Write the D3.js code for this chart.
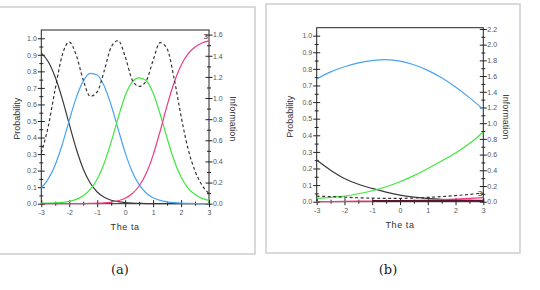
<!DOCTYPE html>
<html><head><meta charset="utf-8">
<script src="https://cdn.jsdelivr.net/npm/d3@7"></script>
<style>body{margin:0;background:#fff;}svg{display:block;}</style>
</head><body>
<svg id="c" width="540" height="290"></svg>
<script>
// ---------- data ----------
const theta = [-3,-2.75,-2.5,-2.25,-2,-1.75,-1.5,-1.25,-1,-0.75,-0.5,-0.25,0,0.25,0.5,0.75,1,1.25,1.5,1.75,2,2.25,2.5,2.75,3];
// panel (a)
const aCat0 = [0.912,0.858,0.764,0.634,0.481,0.332,0.210,0.125,0.071,0.039,0.021,0.012,0.006,0.003,0.002,0.001,0.001,0,0,0,0,0,0,0,0];
const aCat1 = [0.095,0.150,0.236,0.358,0.504,0.641,0.741,0.788,0.778,0.711,0.595,0.451,0.309,0.195,0.115,0.065,0.036,0.020,0.011,0.006,0.003,0.002,0.001,0.001,0.000];
const aCat2 = [0.003,0.004,0.005,0.008,0.014,0.026,0.048,0.086,0.148,0.245,0.374,0.519,0.652,0.735,0.760,0.745,0.669,0.542,0.397,0.263,0.161,0.094,0.055,0.032,0.020];
const aCat3 = [0,0,0,0,0,0,0.001,0.002,0.003,0.005,0.010,0.018,0.033,0.060,0.107,0.182,0.294,0.438,0.593,0.731,0.836,0.905,0.947,0.971,0.984];
const aInfo = [0.48,0.734,1.089,1.406,1.530,1.406,1.171,1.016,1.058,1.257,1.482,1.544,1.393,1.174,1.11,1.16,1.356,1.524,1.467,1.189,0.829,0.520,0.310,0.175,0.097];
// panel (b)
const thetaB = [-3,-2.5,-2,-1.5,-1,-0.5,0,0.5,1,1.5,2,2.5,3];
const bCat0 = [0.251,0.19,0.14,0.105,0.08,0.058,0.04,0.028,0.02,0.014,0.01,0.008,0.006];
const bCat1 = [0.739,0.782,0.813,0.836,0.850,0.856,0.847,0.825,0.791,0.746,0.691,0.627,0.556];
const bCat2 = [0.020,0.026,0.034,0.048,0.066,0.090,0.120,0.157,0.200,0.245,0.293,0.350,0.420];
const bCat3 = [0.000,0.001,0.002,0.003,0.004,0.005,0.006,0.008,0.010,0.013,0.016,0.020,0.025];
const bCat4 = [null,null,null,null,0.004,0.004,0.004,0.004,0.004,0.004,0.005,0.006,0.006];
const bInfo = [0.07,0.065,0.058,0.05,0.045,0.042,0.042,0.047,0.055,0.065,0.078,0.093,0.11];
const thetaTicks = [-3,-2,-1,0,1,2,3];
const probTicks = [0,0.1,0.2,0.3,0.4,0.5,0.6,0.7,0.8,0.9,1.0];
const infoTicksA = [0,0.2,0.4,0.6,0.8,1.0,1.2,1.4,1.6];
const infoTicksB = [0,0.2,0.4,0.6,0.8,1.0,1.2,1.4,1.6,1.8,2.0,2.2];
const captions = ["(a)","(b)"];

const colors = {c0:"#3a3a3a", c1:"#4aa3f0", c2:"#3ee83e", c3:"#ee3a80", c4:"#5a1530"};
const svg = d3.select("#c");

function panel(cfg){
  const g = svg.append("g");
  g.append("rect").attr("x",cfg.frame[0]).attr("y",cfg.frame[1]).attr("width",cfg.frame[2]).attr("height",cfg.frame[3])
    .attr("fill","none").attr("stroke","#cdcdcd").attr("stroke-width",1.5);
  const x = d3.scaleLinear().domain([-3,3]).range([cfg.x0,cfg.x1]);
  const y = d3.scaleLinear().domain([0,cfg.pMax]).range([cfg.y0,cfg.top]);
  const yi = d3.scaleLinear().domain([0,cfg.iMax]).range([cfg.y0,cfg.top]);
  const tickFont = "Liberation Sans, Arial, sans-serif";
  function crossTicks(sel, len, horizontal){
    sel.selectAll(".tick line").each(function(){
      const l=d3.select(this);
      if(horizontal){ l.attr("x1",-len).attr("x2",len); } else { l.attr("y1",-len).attr("y2",len); }
    }).attr("stroke","#222").attr("stroke-width",1);
  }
  const minorP = d3.range(0.05,1.0,0.1).map(v=>+v.toFixed(2));
  const gl = g.append("g").attr("transform",`translate(${cfg.x0},0)`)
    .call(d3.axisLeft(y).tickValues(minorP).tickFormat("").tickSizeOuter(0));
  gl.select(".domain").remove(); crossTicks(gl,2,true);
  const gl2 = g.append("g").attr("transform",`translate(${cfg.x0},0)`)
    .call(d3.axisLeft(y).tickValues(probTicks).tickFormat(d3.format(".1f")).tickSizeOuter(0));
  gl2.select(".domain").remove(); crossTicks(gl2,3.5,true);
  gl2.selectAll("text").attr("x",-4.5).attr("font-size",7).attr("font-family",tickFont).attr("fill","#555");

  const minorI = cfg.infoTicks.slice(0,-1).map(v=>+(v+0.1).toFixed(2));
  const gr = g.append("g").attr("transform",`translate(${cfg.x1},0)`)
    .call(d3.axisRight(yi).tickValues(minorI).tickFormat("").tickSizeOuter(0));
  gr.select(".domain").remove(); crossTicks(gr,2,true);
  const gr2 = g.append("g").attr("transform",`translate(${cfg.x1},0)`)
    .call(d3.axisRight(yi).tickValues(cfg.infoTicks).tickFormat(d3.format(".1f")).tickSizeOuter(0));
  gr2.select(".domain").remove(); crossTicks(gr2,3.5,true);
  gr2.selectAll("text").attr("x",4).attr("font-size",7).attr("font-family",tickFont).attr("fill","#555");

  const minorX = [-2.5,-1.5,-0.5,0.5,1.5,2.5];
  const gb = g.append("g").attr("transform",`translate(0,${cfg.y0})`)
    .call(d3.axisBottom(x).tickValues(minorX).tickFormat("").tickSizeOuter(0));
  gb.select(".domain").remove(); crossTicks(gb,2,false);
  const gb2 = g.append("g").attr("transform",`translate(0,${cfg.y0})`)
    .call(d3.axisBottom(x).tickValues(thetaTicks).tickFormat(d=>String(d)).tickSizeOuter(0));
  gb2.select(".domain").remove(); crossTicks(gb2,3.5,false);
  gb2.selectAll("text").attr("y",6).attr("font-size",7).attr("font-family",tickFont).attr("fill","#555");

  g.append("rect").attr("x",cfg.x0).attr("y",cfg.top).attr("width",cfg.x1-cfg.x0).attr("height",cfg.y0-cfg.top)
    .attr("fill","none").attr("stroke","#222").attr("stroke-width",1);

  const line = d3.line().defined(d=>d[1]!==null).x(d=>x(d[0])).y(d=>y(d[1])).curve(cfg.curve);
  const lineI = d3.line().x(d=>x(d[0])).y(d=>yi(d[1])).curve(cfg.curve);
  cfg.series.forEach(s=>{
    g.append("path").datum(cfg.th.map((t,i)=>[t,s.v[i]])).attr("d",line)
      .attr("fill","none").attr("stroke",s.c).attr("stroke-width",s.w||1.2);
  });
  g.append("path").datum(cfg.th.map((t,i)=>[t,cfg.info[i]])).attr("d",lineI)
    .attr("fill","none").attr("stroke","#333").attr("stroke-width",1.2).attr("stroke-dasharray","3,2.5");

  const last = cfg.series[3].v;
  g.append("text").attr("x",x(2.88)).attr("y",y(last[last.length-1])-2).attr("text-anchor","middle")
    .attr("font-size",8).attr("font-family",tickFont).attr("fill","#333").text("3");

  const lf = "Liberation Sans, Arial, sans-serif";
  g.append("text").attr("transform",`translate(${cfg.pLabX},${(cfg.top+cfg.y0)/2+2}) rotate(-90)`)
    .attr("text-anchor","middle").attr("font-size",9).attr("font-family",lf).attr("fill","#333").text("Probability");
  g.append("text").attr("transform",`translate(${cfg.iLabX},${(cfg.top+cfg.y0)/2+2}) rotate(90)`)
    .attr("text-anchor","middle").attr("font-size",9).attr("font-family",lf).attr("fill","#333").text("Information");
  g.append("text").attr("x",(cfg.x0+cfg.x1)/2).attr("y",cfg.thY).attr("text-anchor","middle")
    .attr("font-size",9).attr("font-family",lf).attr("fill","#333").attr("letter-spacing","0.6").text("The ta");
  svg.append("text").attr("x",cfg.capX).attr("y",274).attr("text-anchor","middle")
    .attr("font-size",13).attr("font-family","DejaVu Serif, Liberation Serif, serif").attr("fill","#222").text(cfg.cap);
}

panel({frame:[-1,7,256,247], x0:41.3, x1:209, y0:203.7, top:30, pMax:1.05, iMax:1.644, infoTicks:infoTicksA,
  th:theta, info:aInfo, pLabX:20, iLabX:230, thY:230, capX:120, cap:captions[0], curve:d3.curveMonotoneX,
  series:[{v:aCat0,c:colors.c0},{v:aCat1,c:colors.c1},{v:aCat2,c:colors.c2},{v:aCat3,c:colors.c3}]});
panel({frame:[266,4,254,249], x0:316.7, x1:483.3, y0:201.7, top:27.7, pMax:1.048, iMax:2.216, infoTicks:infoTicksB,
  th:thetaB, info:bInfo, pLabX:293, iLabX:503, thY:228, capX:388, cap:captions[1], curve:d3.curveCatmullRom,
  series:[{v:bCat0,c:colors.c0},{v:bCat1,c:colors.c1},{v:bCat2,c:colors.c2},{v:bCat3,c:colors.c3},{v:bCat4,c:colors.c4,w:2}]});
</script>
</body></html>
